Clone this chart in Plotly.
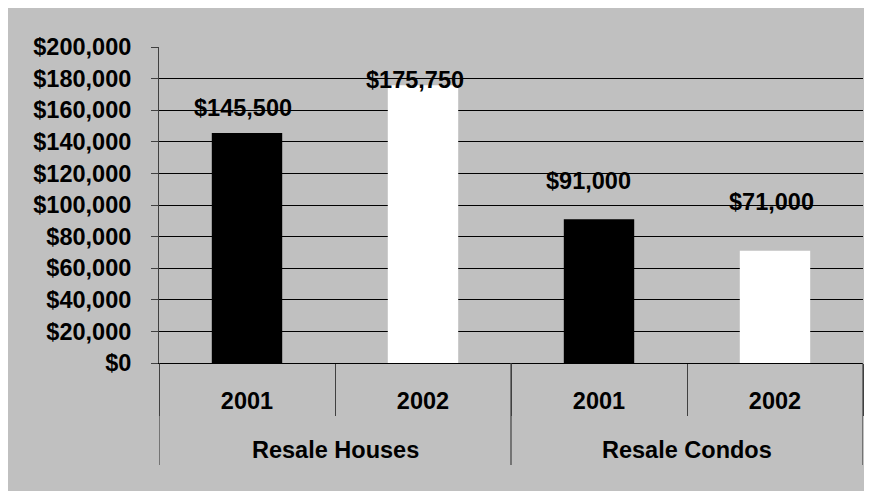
import plotly.graph_objects as go

groups = ["Resale Houses", "Resale Condos"]
years = ["2001", "2002", "2001", "2002"]
prices = [145500, 175750, 91000, 71000]
value_labels = ["$145,500", "$175,750", "$91,000", "$71,000"]
y_tick_vals = [0, 20000, 40000, 60000, 80000, 100000, 120000, 140000, 160000, 180000, 200000]
y_tick_text = ["$0", "$20,000", "$40,000", "$60,000", "$80,000", "$100,000",
               "$120,000", "$140,000", "$160,000", "$180,000", "$200,000"]

bar_colors = ["#000000", "#FFFFFF", "#000000", "#FFFFFF"]
label_yshift = [25, 5, 38, 49]
label_xshift = [-4, -8, -11, -4]

FONT = "Liberation Sans, Arial, sans-serif"
FS = 23.5
GRAY = "#C0C0C0"
LINE = "#404040"

n = len(years)
xpos = list(range(n))
per_group = n // len(groups)
group_centers = [g * per_group + (per_group - 1) / 2 for g in range(len(groups))]
inner_bounds = [i - 0.5 for i in range(n + 1)]
group_bounds = [g * per_group - 0.5 for g in range(len(groups) + 1)]

fig = go.Figure()
fig.add_trace(go.Bar(
    x=xpos,
    y=prices,
    marker=dict(color=bar_colors, line=dict(width=0)),
    width=0.4,
    hoverinfo="skip",
))

for i, (v, t) in enumerate(zip(prices, value_labels)):
    fig.add_annotation(
        x=xpos[i], y=v, text=f"<b>{t}</b>", showarrow=False,
        yanchor="middle", xanchor="center",
        yshift=label_yshift[i], xshift=label_xshift[i],
        font=dict(family=FONT, size=FS, color="#000000"),
    )

W, H = 872, 491
L, T = 151, 39
pw, ph = 704, 316
R, B = W - L - pw, H - T - ph

# group labels
for gc, g in zip(group_centers, groups):
    fig.add_annotation(
        x=gc, xref="x", y=-87 / ph, yref="paper", text=f"<b>{g}</b>",
        showarrow=False, yanchor="middle", xanchor="center",
        font=dict(family=FONT, size=FS, color="#000000"),
    )
# group dividers
for gb in group_bounds:
    fig.add_shape(type="line", xref="x", yref="paper",
                  x0=gb, x1=gb, y0=0, y1=-102 / ph,
                  line=dict(color=LINE, width=1.2))

fig.update_layout(
    width=W, height=H,
    margin=dict(l=L, r=R, t=T, b=B, pad=0),
    paper_bgcolor=GRAY, plot_bgcolor=GRAY,
    showlegend=False,
    font=dict(family=FONT, size=FS, color="#000000"),
)
fig.update_yaxes(
    range=[0, 200000], tickvals=y_tick_vals, ticktext=y_tick_text,
    showgrid=True, gridcolor="#000000", gridwidth=1,
    showline=True, linecolor=LINE, linewidth=1,
    ticks="outside", ticklen=7, tickcolor=LINE,
    zeroline=False,
    tickfont=dict(family=FONT, size=FS, color="#000000", weight="bold"),
    ticklabelstandoff=15,
    fixedrange=True,
)
fig.update_xaxes(
    range=[-0.5, n - 0.5],
    tickvals=xpos, ticktext=years,
    showline=True, linecolor="#000000", linewidth=1,
    ticks="",
    minor=dict(tickvals=inner_bounds, ticks="outside", ticklen=52,
               tickcolor=LINE, tickwidth=1.2, showgrid=False),
    tickfont=dict(family=FONT, size=FS, color="#000000", weight="bold"),
    ticklabelstandoff=17,
    showgrid=False, zeroline=False,
    fixedrange=True,
)

fig.write_html("out.html")
